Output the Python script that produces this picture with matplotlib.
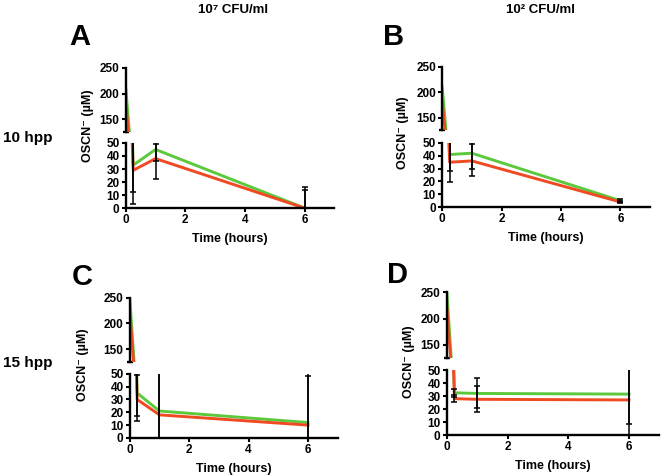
import numpy as np
import matplotlib.pyplot as plt

plt.rcParams['font.family'] = ['Liberation Sans', 'DejaVu Sans']
plt.rcParams['font.weight'] = 'bold'

GREEN = '#5cc93c'
RED = '#f04a22'

time_h = [0, 0.25, 1, 6]

# OSCN- (uM) per panel: green / red series
a_green = [210, 33, 45, 0]
a_red = [180, 29, 38, 0]
b_green = [210, 41, 42, 5]
b_red = [180, 35, 36, 4]
c_green = [250, 35, 21, 12]
c_red = [224, 30, 18, 10]
d_green = [250, 32.5, 32, 31.5]
d_red = [222, 28, 27.5, 27]

# error bars for t = 0.25, 1, 6 as [lower, upper]
a_green_err = [[21, 9, 16], [21, 4, 16]]
a_red_err = [[26, 16, 14], [26, 16, 14]]
b_green_err = [[13, 12, 1], [13, 12, 1]]
b_red_err = [[15.5, 12, 1], [15.5, 13.5, 1]]
c_green_err = [[18, 60, 36], [18, 60, 36]]
c_red_err = [[17, 60, 50], [18.7, 60, 50]]
d_green_err = [[3, 11.5, 23], [3, 11.5, 23]]
d_red_err = [[2.5, 10, 30], [2.5, 10, 30]]

fig = plt.figure(figsize=(6.62, 4.75), dpi=100)


def panel(top_rect, bot_rect, green, red, g_err, r_err):
    ax_t = fig.add_axes(top_rect)
    ax_b = fig.add_axes(bot_rect)
    for ax in (ax_t, ax_b):
        ax.plot(time_h, green, color=GREEN, lw=2.1, zorder=2)
        ax.plot(time_h, red, color=RED, lw=2.1, zorder=2)
        ax.errorbar(time_h[1:], green[1:], yerr=g_err, fmt='none', ecolor='black',
                    elinewidth=1.1, capsize=2.5, capthick=1.1, zorder=3)
        ax.errorbar(time_h[1:], red[1:], yerr=r_err, fmt='none', ecolor='black',
                    elinewidth=1.1, capsize=2.5, capthick=1.1, zorder=3)
        ax.set_xlim(0, 7)
        ax.spines['top'].set_visible(False)
        ax.spines['right'].set_visible(False)
        ax.spines['left'].set_linewidth(1.7)
        ax.spines['bottom'].set_linewidth(1.7)
        ax.tick_params(length=3, width=1.5, labelsize=8.5, pad=1.5)
        ax.patch.set_alpha(0)
    ax_t.set_ylim(125, 250)
    ax_t.spines['bottom'].set_visible(False)
    ax_t.set_xticks([])
    ax_t.set_yticks([150, 200, 250])
    ax_t.set_yticks([125], minor=True)
    ax_t.tick_params(which='minor', axis='y', direction='inout', length=5, width=1.7)
    ax_b.set_ylim(0, 50)
    ax_b.set_yticks(range(0, 51, 10))
    ax_b.set_xticks([0, 2, 4, 6])
    ax_b.set_xlabel('Time (hours)', fontsize=9, fontweight='bold', labelpad=5)
    for lab in ax_t.get_yticklabels() + ax_b.get_yticklabels() + ax_b.get_xticklabels():
        lab.set_fontweight('bold')
    return ax_t, ax_b


panel([0.190, 0.722, 0.315, 0.135], [0.190, 0.562, 0.315, 0.137],
      a_green, a_red, a_green_err, a_red_err)
panel([0.668, 0.726, 0.314, 0.133], [0.668, 0.564, 0.314, 0.135],
      b_green, b_red, b_green_err, b_red_err)
panel([0.196, 0.238, 0.314, 0.135], [0.196, 0.078, 0.314, 0.135],
      c_green, c_red, c_green_err, c_red_err)
panel([0.675, 0.246, 0.321, 0.139], [0.675, 0.084, 0.321, 0.137],
      d_green, d_red, d_green_err, d_red_err)

ylab = 'OSCN⁻ (µM)'
fig.text(0.133, 0.735, ylab, rotation=90, ha='center', va='center', fontsize=9, fontweight='bold')
fig.text(0.609, 0.72, ylab, rotation=90, ha='center', va='center', fontsize=9, fontweight='bold')
fig.text(0.126, 0.232, ylab, rotation=90, ha='center', va='center', fontsize=9, fontweight='bold')
fig.text(0.618, 0.238, ylab, rotation=90, ha='center', va='center', fontsize=9, fontweight='bold')

fig.text(0.352, 0.978, '10⁷ CFU/ml', ha='center', va='center', fontsize=9.5, fontweight='bold')
fig.text(0.817, 0.978, '10² CFU/ml', ha='center', va='center', fontsize=9.5, fontweight='bold')

for letter, x, y in [('A', 0.121, 0.922), ('B', 0.595, 0.922), ('C', 0.124, 0.417), ('D', 0.601, 0.421)]:
    fig.text(x, y, letter, ha='center', va='center', fontsize=21, fontweight='bold')

fig.text(0.042, 0.709, '10 hpp', ha='center', va='center', fontsize=11, fontweight='bold')
fig.text(0.042, 0.236, '15 hpp', ha='center', va='center', fontsize=11, fontweight='bold')

fig.savefig('out.png', dpi=100)
